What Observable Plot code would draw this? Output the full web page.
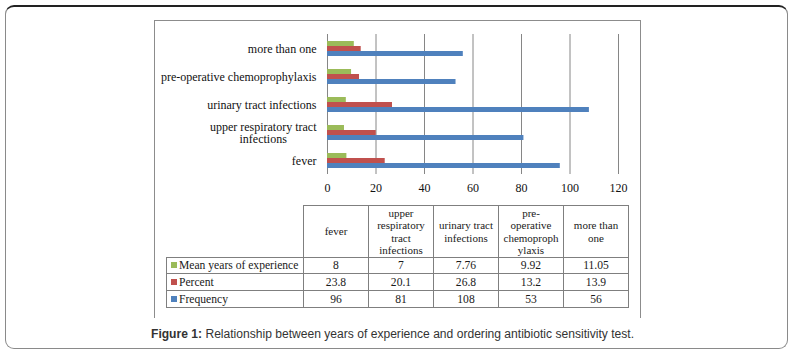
<!DOCTYPE html>
<html><head><meta charset="utf-8">
<script src="https://cdn.jsdelivr.net/npm/d3@7"></script>
<script src="https://cdn.jsdelivr.net/npm/@observablehq/plot@0.6"></script>
<style>
html,body{margin:0;padding:0;background:#fff;}
#page{position:relative;width:792px;height:354px;overflow:hidden;background:#fff;}
#outer{position:absolute;left:5px;top:5px;width:783px;height:344px;box-sizing:border-box;border:1.5px solid #8a8a8a;border-top:2px solid #222;border-radius:9px;}
#frame{position:absolute;left:154px;top:20px;width:487px;height:298px;box-sizing:border-box;border:1px solid #8c8c8c;border-bottom:none;}
#chart{position:absolute;left:154px;top:20px;}
#tbl{position:absolute;left:166px;top:205px;border-collapse:collapse;table-layout:fixed;font-family:"Liberation Serif",serif;font-size:11.6px;color:#1a1a1a;}
#tbl td{border:1px solid #7f7f7f;padding:0;text-align:center;vertical-align:middle;line-height:13px;}
#tbl tr.hdr td{font-size:11px;line-height:12.4px;}
#tbl td.empty{border:none;}
#tbl td.leg{text-align:left;padding-left:4px;white-space:nowrap;}
#tbl .sw{display:inline-block;width:6px;height:6px;margin-right:2px;vertical-align:1px;}
#caption{position:absolute;left:151px;top:326px;white-space:nowrap;transform-origin:0 0;font-family:"Liberation Sans",Arial,sans-serif;font-size:12.5px;line-height:16px;color:#333;}
</style>
</head><body>
<div id="page">
  <div id="outer"></div>
  <div id="frame"></div>
  <div id="chart"></div>
  <table id="tbl"></table>
  <div id="caption"><b>Figure 1:</b> Relationship between years of experience and ordering antibiotic sensitivity test.</div>
</div>
<script>
// ---- data ----
const categories = ["fever", "upper respiratory tract infections", "urinary tract infections", "pre-operative chemoprophylaxis", "more than one"];
const axisLabels = ["fever", "upper respiratory tract\ninfections", "urinary tract infections", "pre-operative chemoprophylaxis", "more than one"];
const headerLabels = [["fever"], ["upper", "respiratory", "tract", "infections"], ["urinary tract", "infections"], ["pre-", "operative", "chemoproph", "ylaxis"], ["more than", "one"]];
const seriesNames = ["Mean years of experience", "Percent", "Frequency"];
const meanYears = [8, 7, 7.76, 9.92, 11.05];
const percent = [23.8, 20.1, 26.8, 13.2, 13.9];
const frequency = [96, 81, 108, 53, 56];
const seriesColors = ["#9BBB59", "#C0504D", "#4F81BD"];
const xTicks = [0, 20, 40, 60, 80, 100, 120];

const seriesValues = [meanYears, percent, frequency];
const rows = categories.flatMap((c, i) => seriesNames.map((s, j) => ({cat: c, label: axisLabels[i], series: s, value: seriesValues[j][i]})));

// measure widest line of wrapped label (lines centred on each other, block right-aligned)
const ctx = document.createElement("canvas").getContext("2d");
ctx.font = "12px 'Liberation Serif'";
const wrappedCat = categories[1];
const wrappedWidth = d3.max(axisLabels[1].split("\n"), l => ctx.measureText(l).width);

const chart = Plot.plot({
  width: 487, height: 175,
  marginLeft: 173, marginRight: 23, marginTop: 12, marginBottom: 19,
  style: {background: "transparent", fontFamily: "'Liberation Serif', serif", fontSize: "12px", color: "#111", overflow: "visible"},
  x: {domain: [0, 120], ticks: xTicks, tickSize: 0, tickPadding: 9, label: null},
  y: {domain: seriesNames, axis: null, paddingInner: 0, paddingOuter: 0.9},
  fy: {domain: categories.slice().reverse(), axis: null, padding: 0},
  color: {domain: seriesNames, range: seriesColors},
  marks: [
    Plot.ruleX(xTicks, {stroke: "#868686", strokeWidth: 1}),
    Plot.barX(rows, {x: "value", y: "series", fy: "cat", fill: "series", inset: 0}),
    Plot.text(rows, {filter: d => d.series === "Percent" && d.cat !== wrappedCat, fy: "cat", y: "series", text: "label",
      frameAnchor: "left", textAnchor: "end", dx: -11, fill: "#111"}),
    Plot.text(rows, {filter: d => d.series === "Percent" && d.cat === wrappedCat, fy: "cat", y: "series", text: "label",
      frameAnchor: "left", textAnchor: "middle", dx: -11 - wrappedWidth / 2, lineHeight: 1.05, fill: "#111"})
  ]
});
document.getElementById("chart").append(chart);

// ---- data table ----
const tbl = d3.select("#tbl");
const colg = tbl.append("colgroup");
colg.append("col").style("width", "137px");
categories.forEach(() => colg.append("col").style("width", "65px"));
const hdr = tbl.append("tr").attr("class", "hdr").style("height", "52px");
hdr.append("td").attr("class", "empty");
headerLabels.forEach(lines => hdr.append("td").html(lines.join("<br>")));
const rowHeights = ["16px", "17px", "17px"];
seriesNames.forEach((s, j) => {
  const tr = tbl.append("tr").style("height", rowHeights[j]);
  const leg = tr.append("td").attr("class", "leg");
  leg.append("span").attr("class", "sw").style("background", seriesColors[j]);
  leg.append("span").text(s);
  seriesValues[j].forEach(v => tr.append("td").text(String(v)));
});

// caption: fit the reference's text width (x 151 → 634)
const cap = document.getElementById("caption");
const capW = cap.getBoundingClientRect().width;
cap.style.transform = `scaleX(${483 / capW})`;
</script>
</body></html>
